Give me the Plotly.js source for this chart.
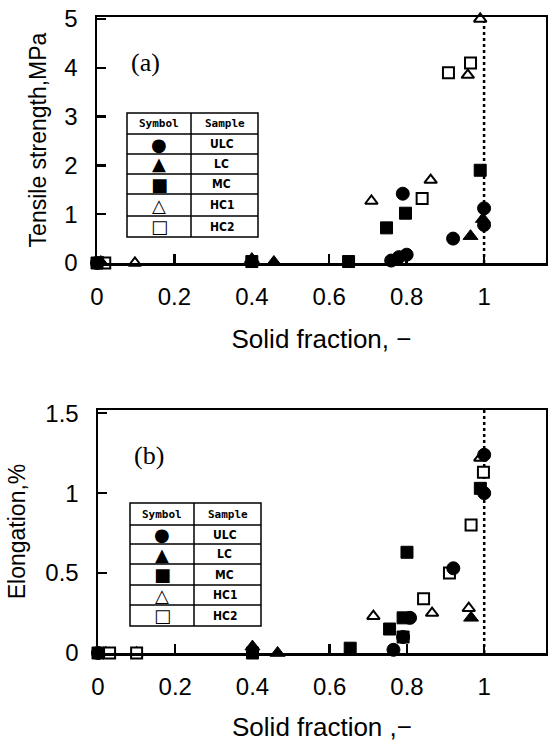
<!DOCTYPE html>
<html>
<head>
<meta charset="utf-8">
<script src="https://cdn.plot.ly/plotly-3.0.1.min.js"></script>
<style>html,body{margin:0;padding:0;background:#fff;}#chart{width:548px;height:742px;}</style>
</head>
<body>
<div id="chart"></div>
<script>
// ---- Data: (a) Tensile strength, MPa ----
const ulcX_a = [0.0, 0.76, 0.78, 0.80, 0.79, 0.92, 1.0, 1.0];
const ulcY_a = [0.0, 0.05, 0.12, 0.17, 1.42, 0.50, 1.12, 0.78];
const lcX_a  = [0.01, 0.40, 0.457, 0.965, 0.997];
const lcY_a  = [0.02, 0.08, 0.02, 0.55, 0.90];
const mcX_a  = [0.0, 0.40, 0.65, 0.748, 0.797, 0.99];
const mcY_a  = [0.0, 0.03, 0.03, 0.72, 1.02, 1.90];
const hc1X_a = [0.016, 0.098, 0.709, 0.862, 0.958, 0.99];
const hc1Y_a = [0.0, 0.0, 1.27, 1.70, 3.85, 5.0];
const hc2X_a = [0.02, 0.84, 0.908, 0.965];
const hc2Y_a = [0.0, 1.32, 3.90, 4.10];

// ---- Data: (b) Elongation, % ----
const ulcX_b = [0.0, 0.765, 0.79, 0.808, 0.92, 1.0, 1.0];
const ulcY_b = [0.0, 0.02, 0.10, 0.22, 0.53, 1.24, 1.0];
const lcX_b  = [0.40, 0.465, 0.966];
const lcY_b  = [0.04, 0.0, 0.22];
const mcX_b  = [0.0, 0.40, 0.653, 0.755, 0.79, 0.79, 0.80, 0.99];
const mcY_b  = [0.0, 0.0, 0.03, 0.15, 0.10, 0.22, 0.63, 1.03];
const hc1X_b = [0.02, 0.10, 0.713, 0.865, 0.96, 0.99];
const hc1Y_b = [0.0, 0.0, 0.23, 0.25, 0.28, 1.22];
const hc2X_b = [0.03, 0.10, 0.843, 0.91, 0.966, 0.998];
const hc2Y_b = [0.0, 0.0, 0.34, 0.50, 0.80, 1.13];

// ---- Labels ----
const sampleNames = ['ULC', 'LC', 'MC', 'HC1', 'HC2'];
const symbolGlyphs = ['●', '▲', '■', '△', '□'];
const xTicks = [0, 0.2, 0.4, 0.6, 0.8, 1];
const yTicksA = [0, 1, 2, 3, 4, 5];
const yTicksB = [0, 0.5, 1, 1.5];
const tableHeader = ['Symbol', 'Sample'];

const W = 548, H = 742;
const px = v => v / W;
const py = v => 1 - v / H;

const styles = {
  ULC: {symbol: 'circle', size: 13, color: 'black', line: {color: 'black', width: 1}},
  LC:  {symbol: 'triangle-up', size: 13, color: 'black', line: {color: 'black', width: 1}},
  MC:  {symbol: 'square', size: 12, color: 'black', line: {color: 'black', width: 1}},
  HC1: {symbol: 'triangle-up', size: 11, color: 'white', line: {color: 'black', width: 2}},
  HC2: {symbol: 'square', size: 11, color: 'white', line: {color: 'black', width: 2}}
};

function tr(name, x, y, xa, ya) {
  return {type: 'scatter', mode: 'markers', x: x, y: y, name: name, xaxis: xa, yaxis: ya,
          marker: styles[name], cliponaxis: false, showlegend: false, hoverinfo: 'x+y+name'};
}

const data = [
  tr('HC1', hc1X_a, hc1Y_a, 'x', 'y'),
  tr('HC2', hc2X_a, hc2Y_a, 'x', 'y'),
  tr('LC', lcX_a, lcY_a, 'x', 'y'),
  tr('MC', mcX_a, mcY_a, 'x', 'y'),
  tr('ULC', ulcX_a, ulcY_a, 'x', 'y'),
  tr('HC1', hc1X_b, hc1Y_b, 'x2', 'y2'),
  tr('HC2', hc2X_b, hc2Y_b, 'x2', 'y2'),
  tr('LC', lcX_b, lcY_b, 'x2', 'y2'),
  tr('MC', mcX_b, mcY_b, 'x2', 'y2'),
  tr('ULC', ulcX_b, ulcY_b, 'x2', 'y2')
];

const tickFont = {family: 'Liberation Sans, Arial, sans-serif', size: 24, color: 'black'};
const xTitleFont = {family: 'Liberation Sans, Arial, sans-serif', size: 26, color: 'black'};
const yTitleFont = {family: 'Liberation Sans, Arial, sans-serif', size: 23, color: 'black'};

function xAxis(domain, anchor, title) {
  return {domain: domain, anchor: anchor, range: [0, 1.16], showline: true, mirror: true,
    linecolor: 'black', linewidth: 2.5, ticks: 'inside', ticklen: 9, tickwidth: 2.5, tickcolor: 'black',
    tickvals: xTicks, showgrid: false, zeroline: false, tickfont: tickFont, ticklabelstandoff: 11,
    title: {text: title, font: xTitleFont, standoff: 21}};
}
function yAxis(domain, anchor, range, ticks, title, standoff) {
  return {domain: domain, anchor: anchor, range: range, showline: true, mirror: true,
    linecolor: 'black', linewidth: 2.5, ticks: 'inside', ticklen: 9, tickwidth: 2.5, tickcolor: 'black',
    tickvals: ticks, showgrid: false, zeroline: false, tickfont: tickFont, ticklabelstandoff: 12,
    title: {text: title, font: yTitleFont, standoff: standoff}};
}

const shapes = [
  {type: 'line', xref: 'x', yref: 'y', x0: 1, x1: 1, y0: 0, y1: 5.04, layer: 'below',
   line: {color: 'black', width: 2.5, dash: 'dot'}},
  {type: 'line', xref: 'x2', yref: 'y2', x0: 1, x1: 1, y0: 0, y1: 1.52, layer: 'below',
   line: {color: 'black', width: 2.5, dash: 'dot'}}
];
const ann = (text, x, y, font) => ({text: text, xref: 'paper', yref: 'paper', x: px(x), y: py(y),
  xanchor: 'center', yanchor: 'middle', showarrow: false, font: font});
const serif = {family: 'Liberation Serif, Times New Roman, serif', size: 26, color: 'black'};
const annotations = [ann('(a)', 145, 63, serif), ann('(b)', 149, 455, serif)];

function table(x0, x1, xc, rows) {
  const lw = {color: 'black', width: 1.5};
  shapes.push({type: 'rect', xref: 'paper', yref: 'paper', x0: px(x0), x1: px(x1),
    y0: py(rows[0]), y1: py(rows[rows.length - 1]), line: lw, fillcolor: 'white'});
  shapes.push({type: 'line', xref: 'paper', yref: 'paper', x0: px(xc), x1: px(xc),
    y0: py(rows[0]), y1: py(rows[rows.length - 1]), line: lw});
  for (let i = 1; i < rows.length - 1; i++) {
    shapes.push({type: 'line', xref: 'paper', yref: 'paper', x0: px(x0), x1: px(x1),
      y0: py(rows[i]), y1: py(rows[i]), line: lw});
  }
  const c1 = (x0 + xc) / 2, c2 = (xc + x1) / 2;
  const hf = {family: 'DejaVu Sans Mono, monospace', size: 11, color: 'black'};
  annotations.push(ann('<b>' + tableHeader[0] + '</b>', c1, (rows[0] + rows[1]) / 2, hf));
  annotations.push(ann('<b>' + tableHeader[1] + '</b>', c2, (rows[0] + rows[1]) / 2, hf));
  for (let i = 0; i < sampleNames.length; i++) {
    const yc = (rows[i + 1] + rows[i + 2]) / 2;
    annotations.push(ann(symbolGlyphs[i], c1, yc, {family: 'DejaVu Sans, sans-serif', size: 18, color: 'black'}));
    annotations.push(ann('<b>' + sampleNames[i] + '</b>', c2 - 3, yc,
      {family: 'DejaVu Sans Condensed, DejaVu Sans, sans-serif', size: 12, color: 'black'}));
  }
}
table(127, 258, 191, [113, 134, 154, 174, 194, 216, 237]);
table(130, 261, 194, [503, 525, 544, 564, 585, 605, 626]);

const layout = {
  width: W, height: H, margin: {l: 0, r: 0, t: 0, b: 0},
  paper_bgcolor: 'white', plot_bgcolor: 'white', showlegend: false,
  xaxis: xAxis([px(97), px(546)], 'y', 'Solid fraction, −'),
  yaxis: yAxis([py(263), py(17)], 'x', [0, 5.04], yTicksA, 'Tensile strength,MPa', 12),
  xaxis2: xAxis([px(98), px(546)], 'y2', 'Solid fraction ,−'),
  yaxis2: yAxis([py(653), py(410)], 'x2', [0, 1.52], yTicksB, 'Elongation,%', 14),
  shapes: shapes, annotations: annotations
};

Plotly.newPlot('chart', data, layout, {displayModeBar: false, staticPlot: true});
</script>
</body>
</html>
